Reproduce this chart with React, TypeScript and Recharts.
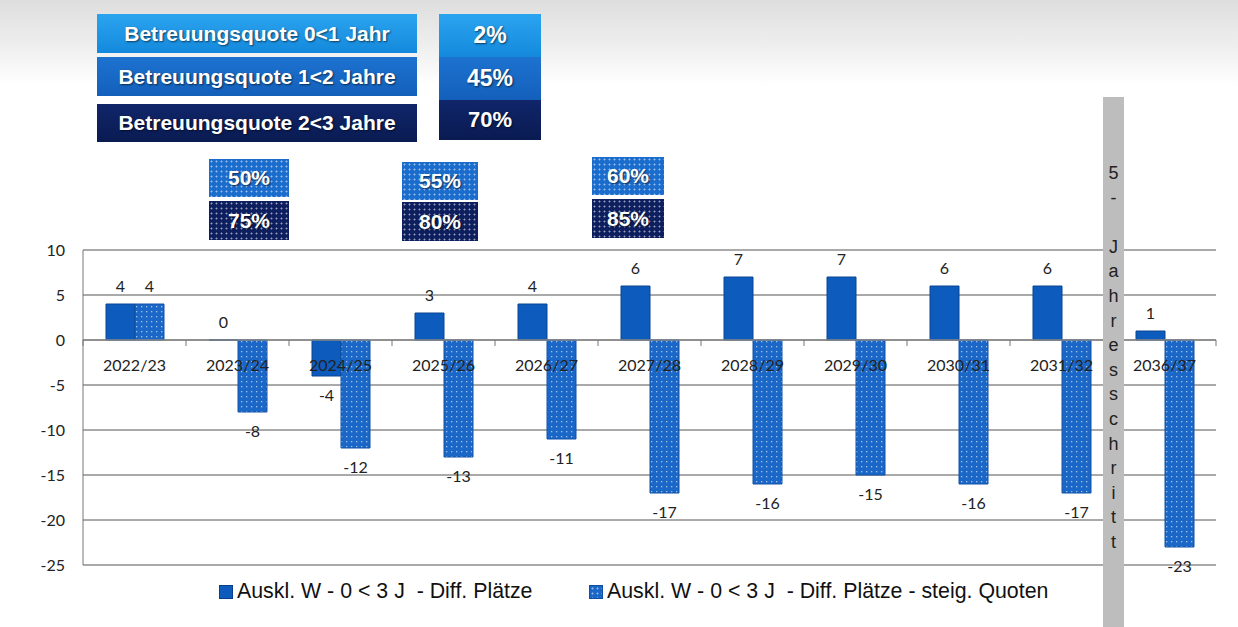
import React from "react";
import {
  BarChart,
  Bar,
  XAxis,
  YAxis,
  CartesianGrid,
  Legend,
  LabelList,
  ReferenceLine,
} from "recharts";

// Schuljahre (Kategorien)
const categories = [
  "2022/23",
  "2023/24",
  "2024/25",
  "2025/26",
  "2026/27",
  "2027/28",
  "2028/29",
  "2029/30",
  "2030/31",
  "2031/32",
  "2036/37",
];

// Auskl. W - 0 < 3 J - Diff. Plätze
const diffPlaetze = [4, 0, -4, 3, 4, 6, 7, 7, 6, 6, 1];
// Auskl. W - 0 < 3 J - Diff. Plätze - steig. Quoten
const diffSteigQuoten = [4, -8, -12, -13, -11, -17, -16, -15, -16, -17, -23];

const yTicks = [10, 5, 0, -5, -10, -15, -20, -25];

const seriesNames = [
  "Auskl. W - 0 < 3 J  - Diff. Plätze",
  "Auskl. W - 0 < 3 J  - Diff. Plätze - steig. Quoten",
];

const quoteLabels = [
  "Betreuungsquote 0<1 Jahr",
  "Betreuungsquote 1<2 Jahre",
  "Betreuungsquote 2<3 Jahre",
];
const baseQuotes = ["2%", "45%", "70%"];
// steigende Quoten (1<2 Jahre / 2<3 Jahre)
const stepQuotes12 = ["50%", "55%", "60%"];
const stepQuotes23 = ["75%", "80%", "85%"];

const bandText = ["5", "-", "", "J", "a", "h", "r", "e", "s", "s", "c", "h", "r", "i", "t", "t"];

const data = categories.map((c, i) => ({
  name: c,
  a: diffPlaetze[i],
  b: diffSteigQuoten[i],
}));

const W = 1238;
const H = 627;
const LEGEND_H = 26;
const M = { top: 250, right: 22, bottom: 62 - LEGEND_H - 1, left: 23 };
const Y_AXIS_W = 60;
const PLOT_TOP = 250;
const PLOT_H = 315;
const ZERO_Y = PLOT_TOP + (PLOT_H * 10) / 35;
const HALF_BAND = (W - M.left - Y_AXIS_W - M.right) / categories.length / 2;

const axisFont = "Lato, 'Open Sans', sans-serif";
const legendFont = "'Liberation Sans', Arial, sans-serif";
const boxFont = "'Liberation Sans', Arial, sans-serif";

const LIGHT = "linear-gradient(#2ba4f0, #1489dc)";
const MID = "linear-gradient(#1d72d0, #1360bb)";
const NAVY = "linear-gradient(#10266a, #0a1b52)";
const dots =
  "radial-gradient(rgba(255,255,255,0.55) 0.8px, transparent 1.2px) 0 0 / 5px 5px";

const XTick = (props: any) => {
  const { x, payload, index } = props;
  const last = index === categories.length - 1;
  return (
    <g>
      <line x1={x - HALF_BAND} x2={x - HALF_BAND} y1={ZERO_Y} y2={ZERO_Y + 6} stroke="#777" />
      {last && (
        <line x1={x + HALF_BAND} x2={x + HALF_BAND} y1={ZERO_Y} y2={ZERO_Y + 6} stroke="#777" />
      )}
      <text
        x={x}
        y={ZERO_Y + 31}
        textAnchor="middle"
        fontSize={16}
        fill="#222"
        fontFamily={axisFont}
      >
        {payload.value}
      </text>
    </g>
  );
};

const ValueLabel = (props: any) => {
  const { x, y, width, height, value } = props;
  const top = Math.min(y, y + height);
  const bottom = Math.max(y, y + height);
  const ty = value < 0 ? bottom + 25 : top - 12;
  return (
    <text
      x={x + width / 2}
      y={ty}
      textAnchor="middle"
      fontSize={16}
      fill="#222"
      fontFamily={axisFont}
    >
      {value}
    </text>
  );
};

const legendText: React.CSSProperties = {
  position: "absolute",
  top: 0,
  whiteSpace: "pre",
  transform: "scaleX(0.97)",
  transformOrigin: "left center",
};

const LegendContent = () => (
  <div style={{ position: "relative", height: LEGEND_H, fontFamily: legendFont, fontSize: 22, lineHeight: "26px", color: "#111" }}>
    <div style={{ position: "absolute", left: 219, top: 7, width: 12, height: 12, background: "#0d5bbd", border: "1px solid #083e8a" }} />
    <div style={{ ...legendText, left: 237 }}>{seriesNames[0]}</div>
    <div style={{ position: "absolute", left: 589, top: 7, width: 12, height: 12, background: `${dots}, #1a67c8`, border: "1px solid #0d4fa0" }} />
    <div style={{ ...legendText, left: 607 }}>{seriesNames[1]}</div>
  </div>
);

const boxText: React.CSSProperties = {
  position: "absolute",
  color: "#fff",
  fontFamily: boxFont,
  fontWeight: "bold",
  display: "flex",
  alignItems: "center",
  justifyContent: "center",
  textShadow: "1px 1px 2px rgba(0,0,0,0.6)",
  boxSizing: "border-box",
  whiteSpace: "nowrap",
};

const Box = ({ left, top, width, height, bg, size, children }: any) => (
  <div style={{ ...boxText, left, top, width, height, background: bg, fontSize: size }}>{children}</div>
);

export default function App() {
  const stepBoxes = [
    { left: 209, w: 80, t1: 159, t2: 201 },
    { left: 402, w: 76, t1: 162, t2: 202 },
    { left: 592, w: 72, t1: 157, t2: 199 },
  ];
  return (
    <div
      style={{
        position: "absolute",
        left: 0,
        top: 0,
        width: W,
        height: H,
        overflow: "hidden",
        background: "linear-gradient(#dedede 0px, #eeeeee 45px, #ffffff 85px)",
      }}
    >
      <BarChart
        width={W}
        height={H}
        data={data}
        margin={M}
        barSize={29}
        barGap={0}
      >
        <defs>
          <pattern id="dotFill" width="5" height="5" patternUnits="userSpaceOnUse">
            <rect width="5" height="5" fill="#1a67c8" />
            <rect x="1" y="1" width="1.3" height="1.3" fill="#ffffff" opacity="0.6" />
          </pattern>
        </defs>
        <CartesianGrid vertical={false} stroke="#555" strokeWidth={1} />
        <XAxis
          dataKey="name"
          axisLine={false}
          tickLine={false}
          tick={(p: any) => <XTick {...p} />}
          height={1}
          interval={0}
        />
        <YAxis
          width={Y_AXIS_W}
          domain={[-25, 10]}
          ticks={yTicks}
          interval={0}
          axisLine={{ stroke: "#777" }}
          tickLine={false}
          tickMargin={12}
          tick={{ fontSize: 16, fill: "#222", fontFamily: axisFont }}
        />
        <ReferenceLine y={0} stroke="#888" strokeWidth={1.5} />
        <Legend
          content={() => <LegendContent />}
          wrapperStyle={{ left: 0, top: 578, width: W }}
        />
        <Bar
          dataKey="a"
          fill="#0d5bbd"
          stroke="#0a448f"
          strokeWidth={1}
          minPointSize={0.01}
          isAnimationActive={false}
        >
          <LabelList dataKey="a" content={(p: any) => <ValueLabel {...p} />} />
        </Bar>
        <Bar dataKey="b" fill="url(#dotFill)" stroke="#0f52a6" strokeWidth={1} isAnimationActive={false}>
          <LabelList dataKey="b" content={(p: any) => <ValueLabel {...p} />} />
        </Bar>
      </BarChart>

      {/* Quoten-Kästen oben */}
      <Box left={97} top={14} width={320} height={39} bg={LIGHT} size={21}>{quoteLabels[0]}</Box>
      <Box left={97} top={57} width={320} height={39} bg={MID} size={21}>{quoteLabels[1]}</Box>
      <Box left={97} top={104} width={320} height={38} bg={NAVY} size={21}>{quoteLabels[2]}</Box>
      <Box left={439} top={14} width={102} height={43} bg={LIGHT} size={23}>{baseQuotes[0]}</Box>
      <Box left={439} top={57} width={102} height={43} bg={MID} size={23}>{baseQuotes[1]}</Box>
      <Box left={439} top={100} width={102} height={40} bg={NAVY} size={22}>{baseQuotes[2]}</Box>
      {stepBoxes.map((b, i) => (
        <React.Fragment key={i}>
          <Box left={b.left} top={b.t1} width={b.w} height={38} bg={`${dots}, #1a6ccd`} size={21}>
            {stepQuotes12[i]}
          </Box>
          <Box left={b.left} top={b.t2} width={b.w} height={39} bg={`${dots}, #0d1f5e`} size={21}>
            {stepQuotes23[i]}
          </Box>
        </React.Fragment>
      ))}

      {/* 5-Jahresschritt Band */}
      <div
        style={{
          position: "absolute",
          left: 1103,
          top: 97,
          width: 21,
          height: 530,
          background: "#bdbdbd",
        }}
      >
        {bandText.map((ch, i) => (
          <div
            key={i}
            style={{
              position: "absolute",
              left: 0,
              width: 21,
              top: 64 + i * 24.6,
              textAlign: "center",
              fontFamily: boxFont,
              fontSize: 18,
              lineHeight: "24px",
              color: "#222",
            }}
          >
            {ch}
          </div>
        ))}
      </div>
    </div>
  );
}
